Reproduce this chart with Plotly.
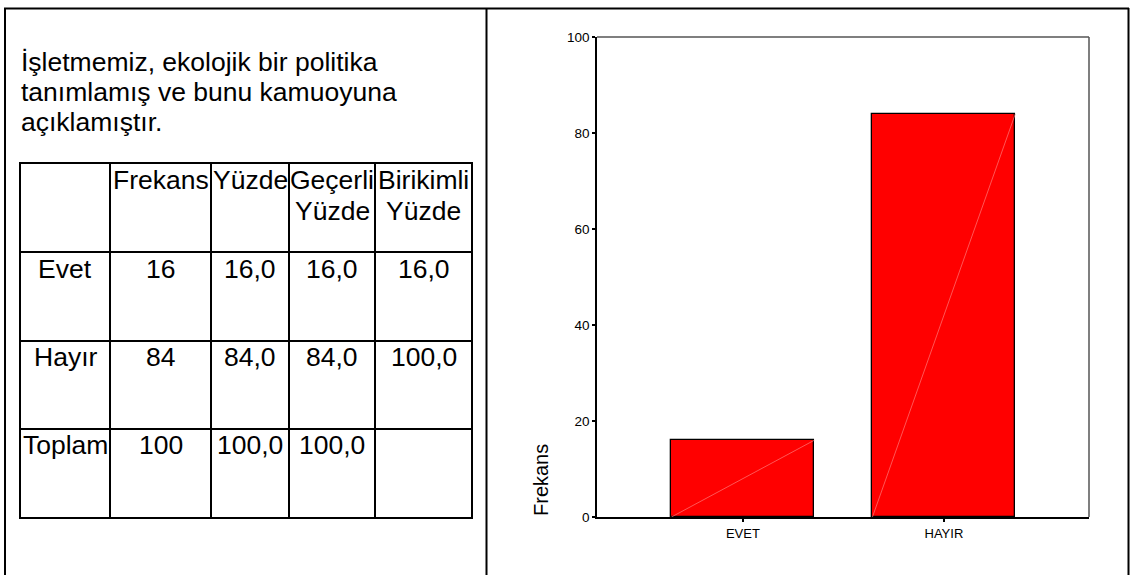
import plotly.graph_objects as go

# ---------------- data ----------------
title_lines = ["İşletmemiz, ekolojik bir politika", "tanımlamış ve bunu kamuoyuna", "açıklamıştır."]
header_cells = [[""], ["Frekans"], ["Yüzde"], ["Geçerli", "Yüzde"], ["Birikimli", "Yüzde"]]
row_labels = ["Evet", "Hayır", "Toplam"]
frekans = ["16", "84", "100"]
yuzde = ["16,0", "84,0", "100,0"]
gecerli_yuzde = ["16,0", "84,0", "100,0"]
birikimli_yuzde = ["16,0", "100,0", ""]

categories = ["EVET", "HAYIR"]
counts = [16, 84]
y_ticks = [0, 20, 40, 60, 80, 100]

# ---------------- layout geometry (pixels) ----------------
W, H = 1130, 575
PL, PR, PT, PB = 597, 1089, 37, 517
PW, PH = PR - PL, PB - PT


def px(x):
    return (x - PL) / PW


def py(y):
    return (PB - y) / PH


FONT = "Arial, 'Liberation Sans', sans-serif"
BAR_W = 0.711
xs = list(range(len(categories)))

fig = go.Figure()
fig.add_trace(go.Bar(
    x=xs, y=counts, width=BAR_W,
    marker=dict(color="#ff0000", line=dict(color="#000000", width=1.3)),
    hoverinfo="skip", showlegend=False,
))
# faint diagonal in each bar
for xi, v in zip(xs, counts):
    fig.add_trace(go.Scatter(
        x=[xi - BAR_W / 2, xi + BAR_W / 2], y=[0, v], mode="lines",
        line=dict(color="#ff7a7a", width=0.7), hoverinfo="skip", showlegend=False,
    ))

shapes = []
LINE = dict(color="#000000", width=2)
# outer frame
shapes.append(dict(type="line", xref="paper", yref="paper", x0=px(5), x1=px(5), y0=py(8), y1=py(580), line=LINE))
shapes.append(dict(type="line", xref="paper", yref="paper", x0=px(4), x1=px(1129), y0=py(8.5), y1=py(8.5), line=LINE))
shapes.append(dict(type="line", xref="paper", yref="paper", x0=px(486.5), x1=px(486.5), y0=py(8), y1=py(580), line=LINE))
shapes.append(dict(type="line", xref="paper", yref="paper", x0=px(1128.5), x1=px(1128.5), y0=py(8), y1=py(580), line=LINE))
# plot frame top / right
shapes.append(dict(type="line", xref="paper", yref="paper", x0=0, x1=1, y0=1, y1=1, line=dict(color="#000000", width=1.2)))
shapes.append(dict(type="line", xref="paper", yref="paper", x0=1, x1=1, y0=0, y1=1, line=dict(color="#555555", width=1.5)))

# table grid
col_edges = [20, 110, 211, 289, 375, 472]
row_edges = [163, 252, 341, 429, 518]
for cx in col_edges:
    shapes.append(dict(type="line", xref="paper", yref="paper", x0=px(cx), x1=px(cx),
                       y0=py(row_edges[0] - 1), y1=py(row_edges[-1] + 1), line=LINE))
for ry in row_edges:
    shapes.append(dict(type="line", xref="paper", yref="paper", x0=px(col_edges[0] - 1), x1=px(col_edges[-1] + 1),
                       y0=py(ry), y1=py(ry), line=LINE))

annotations = []
TF = dict(family=FONT, size=26.5, color="#000000")
# title
title_y = [62, 92, 122]
for t, ty in zip(title_lines, title_y):
    annotations.append(dict(text=t, xref="paper", yref="paper", x=px(19), y=py(ty),
                            xanchor="left", yanchor="middle", showarrow=False, font=TF))

col_centers = [(a + b) / 2 for a, b in zip(col_edges[:-1], col_edges[1:])]
# header
header_line_y = [179.5, 211]
for cc, lines in zip(col_centers, header_cells):
    for ln, ly in zip(lines, header_line_y):
        if ln:
            annotations.append(dict(text=ln, xref="paper", yref="paper", x=px(cc), y=py(ly),
                                    xanchor="center", yanchor="middle", showarrow=False, font=TF))
# body rows
row_text_y = [269, 357, 445]
columns = [row_labels, frekans, yuzde, gecerli_yuzde, birikimli_yuzde]
for cc, col in zip(col_centers, columns):
    for val, ry in zip(col, row_text_y):
        if val:
            annotations.append(dict(text=val, xref="paper", yref="paper", x=px(cc), y=py(ry),
                                    xanchor="center", yanchor="middle", showarrow=False, font=TF))

# y axis title
annotations.append(dict(text="Frekans", xref="paper", yref="paper", x=px(541), y=py(480),
                        xanchor="center", yanchor="middle", textangle=-90, showarrow=False,
                        font=dict(family=FONT, size=20, color="#000000")))

fig.update_layout(
    width=W, height=H,
    margin=dict(l=PL, r=W - PR, t=PT, b=H - PB, autoexpand=False),
    paper_bgcolor="#ffffff", plot_bgcolor="#ffffff",
    shapes=shapes, annotations=annotations,
    bargap=0,
    xaxis=dict(range=[-0.726, 1.722], tickvals=xs, ticktext=categories, showgrid=False, zeroline=False,
               showline=True, linecolor="#000000", linewidth=2, ticks="outside", ticklen=3,
               tickcolor="#000000", tickwidth=2, automargin=False,
               tickfont=dict(family=FONT, size=13, color="#000000")),
    yaxis=dict(range=[0, 100], tickvals=y_ticks, showgrid=False, zeroline=False,
               showline=True, linecolor="#000000", linewidth=1.5, ticks="outside", ticklen=3,
               tickcolor="#000000", tickwidth=2, automargin=False,
               tickfont=dict(family=FONT, size=13.5, color="#000000")),
)

fig.write_html("out.html", config={"displayModeBar": False},
               post_script="document.body.style.margin='0';document.body.style.overflow='hidden';")
